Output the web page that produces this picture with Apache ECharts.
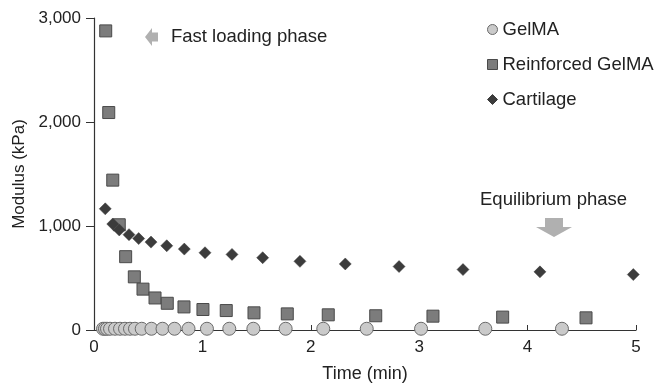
<!DOCTYPE html>
<html>
<head>
<meta charset="utf-8">
<script src="https://cdn.jsdelivr.net/npm/echarts@6/dist/echarts.min.js"></script>
<style>
html,body{margin:0;padding:0;background:#fff;}
#chart{width:656px;height:388px;}
</style>
</head>
<body>
<div id="chart"></div>
<script>
// Data
var gelmaTime = [0.083, 0.101, 0.12, 0.148, 0.194, 0.240, 0.286, 0.332, 0.378, 0.440, 0.530, 0.632, 0.743, 0.872, 1.042, 1.248, 1.470, 1.768, 2.115, 2.516, 3.017, 3.610, 4.317];
var gelmaModulus = [12, 12, 12, 12, 12, 12, 12, 12, 12, 12, 12, 12, 12, 12, 12, 12, 12, 12, 12, 12, 12, 12, 12];

var reinforcedTime = [0.108, 0.136, 0.173, 0.233, 0.292, 0.372, 0.452, 0.563, 0.676, 0.830, 1.005, 1.220, 1.476, 1.783, 2.161, 2.599, 3.127, 3.770, 4.539];
var reinforcedModulus = [2876, 2091, 1441, 1012, 705, 511, 393, 308, 257, 222, 197, 187, 165, 155, 146, 137, 133, 124, 117];

var cartilageTime = [0.104, 0.173, 0.233, 0.323, 0.412, 0.526, 0.671, 0.833, 1.024, 1.273, 1.556, 1.900, 2.318, 2.814, 3.404, 4.114, 4.975];
var cartilageModulus = [1165, 1019, 962, 917, 879, 845, 810, 778, 743, 727, 695, 660, 635, 610, 581, 559, 533];

var seriesNames = ['GelMA', 'Reinforced GelMA', 'Cartilage'];
var xTicks = [0, 1, 2, 3, 4, 5];
var yTicks = [0, 1000, 2000, 3000];
var annotations = ['Fast loading phase', 'Equilibrium phase'];

function pairs(xs, ys) { return xs.map(function (x, i) { return [x, ys[i]]; }); }

var FONT = '"Liberation Sans", Arial, Helvetica, sans-serif';
var chart = echarts.init(document.getElementById('chart'), null, { renderer: 'canvas' });

chart.setOption({
  animation: false,
  backgroundColor: '#ffffff',
  textStyle: { fontFamily: FONT, color: '#222' },
  grid: { left: 94, right: 20, top: 18, bottom: 55, containLabel: false },
  legend: {
    orient: 'vertical',
    left: 482, top: 15,
    itemWidth: 10, itemHeight: 10, itemGap: 16,
    data: [
      { name: seriesNames[0], icon: 'circle' },
      { name: seriesNames[1], icon: 'rect' },
      { name: seriesNames[2], icon: 'diamond' }
    ],
    textStyle: { fontFamily: FONT, fontSize: 18.5, color: '#222', padding: [0, 0, 0, 0] },
    itemStyle: { borderWidth: 1 }
  },
  xAxis: {
    type: 'value', min: xTicks[0], max: xTicks[xTicks.length - 1], interval: 1,
    name: 'Time (min)', nameLocation: 'middle', nameGap: 35,
    nameTextStyle: { fontFamily: FONT, fontSize: 18, color: '#222' },
    axisLine: { show: true, lineStyle: { color: '#333', width: 1.2 } },
    axisTick: { show: true, inside: true, length: 5, lineStyle: { color: '#333' } },
    axisLabel: { fontFamily: FONT, fontSize: 17, color: '#222', margin: 9 },
    splitLine: { show: false }
  },
  yAxis: {
    type: 'value', min: yTicks[0], max: yTicks[yTicks.length - 1], interval: 1000,
    name: 'Modulus (kPa)', nameLocation: 'middle', nameGap: 62,
    nameTextStyle: { fontFamily: FONT, fontSize: 17, color: '#222' },
    axisLine: { show: true, lineStyle: { color: '#333', width: 1.2 } },
    axisTick: { show: true, inside: false, length: 8, lineStyle: { color: '#333' } },
    axisLabel: {
      fontFamily: FONT, fontSize: 17, color: '#222', margin: 13,
      formatter: function (v) { return v.toLocaleString('en-US'); }
    },
    splitLine: { show: false }
  },
  series: [
    {
      name: seriesNames[0], type: 'scatter', symbol: 'circle', symbolSize: 13,
      data: pairs(gelmaTime, gelmaModulus),
      itemStyle: { color: '#cacaca', borderColor: '#6a6a6a', borderWidth: 1, opacity: 1 },
      z: 3
    },
    {
      name: seriesNames[1], type: 'scatter', symbol: 'rect', symbolSize: 12,
      data: pairs(reinforcedTime, reinforcedModulus),
      itemStyle: { color: '#7c7c7c', borderColor: '#4a4a4a', borderWidth: 1, opacity: 1 },
      z: 4
    },
    {
      name: seriesNames[2], type: 'scatter', symbol: 'diamond', symbolSize: 12,
      data: pairs(cartilageTime, cartilageModulus),
      itemStyle: { color: '#3c3c3c', borderColor: '#3c3c3c', borderWidth: 0.5, opacity: 1 },
      z: 5
    }
  ],
  graphic: [
    { type: 'text', left: 171, top: 27, style: { text: annotations[0], font: '18.5px ' + FONT, fill: '#222' } },
    { type: 'polygon', shape: { points: [[145, 37], [152, 28], [152, 32.5], [158, 32.5], [158, 41.5], [152, 41.5], [152, 46]] }, style: { fill: '#b0b0b0' } },
    { type: 'text', left: 480, top: 190, style: { text: annotations[1], font: '18.5px ' + FONT, fill: '#222' } },
    { type: 'polygon', shape: { points: [[545, 218], [563, 218], [563, 227], [572, 227], [554, 237], [536, 227], [545, 227]] }, style: { fill: '#b0b0b0' } }
  ]
});
</script>
</body>
</html>
